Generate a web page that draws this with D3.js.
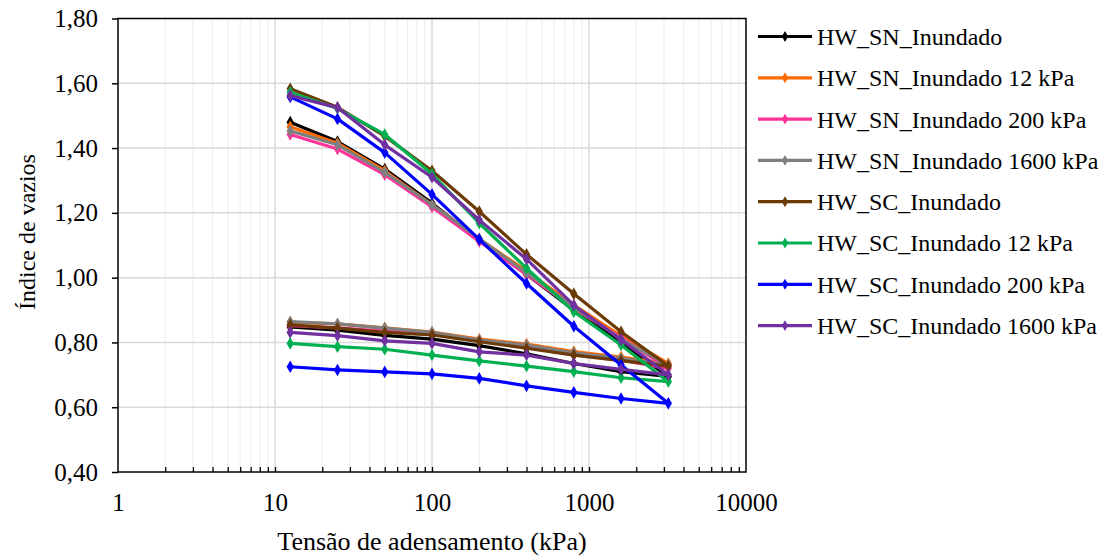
<!DOCTYPE html>
<html>
<head>
<meta charset="utf-8">
<script src="https://cdn.jsdelivr.net/npm/d3@7"></script>
<style>
  html, body { margin: 0; padding: 0; background: #fff; }
</style>
</head>
<body>
<svg id="chart" width="1111" height="556"></svg>
<script>
// Consolidation stages (kPa): loading up to 3200, then unloading back to 12.5
const loadSteps = [12.5, 25, 50, 100, 200, 400, 800, 1600, 3200];
const unloadSteps = [1600, 800, 400, 200, 100, 50, 25, 12.5];

const seriesNames = [
  "HW_SN_Inundado",
  "HW_SN_Inundado 12 kPa",
  "HW_SN_Inundado 200 kPa",
  "HW_SN_Inundado 1600 kPa",
  "HW_SC_Inundado",
  "HW_SC_Inundado 12 kPa",
  "HW_SC_Inundado 200 kPa",
  "HW_SC_Inundado 1600 kPa"
];
const seriesColors = ["#000000", "#ff6a00", "#ff3399", "#7f7f7f", "#6b3a06", "#00b050", "#0000ff", "#7030a0"];

// Void ratio on loading (at loadSteps)
const loadSN     = [1.480, 1.420, 1.335, 1.230, 1.115, 1.010, 0.900, 0.800, 0.695];
const loadSN12   = [1.466, 1.415, 1.330, 1.225, 1.120, 1.020, 0.915, 0.820, 0.735];
const loadSN200  = [1.442, 1.397, 1.318, 1.218, 1.112, 1.010, 0.905, 0.815, 0.720];
const loadSN1600 = [1.453, 1.410, 1.325, 1.225, 1.120, 1.015, 0.910, 0.810, 0.730];
const loadSC     = [1.583, 1.526, 1.437, 1.330, 1.204, 1.072, 0.950, 0.833, 0.727];
const loadSC12   = [1.572, 1.522, 1.442, 1.320, 1.168, 1.029, 0.895, 0.792, 0.679];
const loadSC200  = [1.558, 1.490, 1.386, 1.257, 1.118, 0.982, 0.850, 0.730, 0.612];
const loadSC1600 = [1.562, 1.525, 1.410, 1.310, 1.178, 1.057, 0.915, 0.808, 0.700];

// Void ratio on unloading (at unloadSteps)
const unloadSN     = [0.710, 0.735, 0.765, 0.790, 0.810, 0.822, 0.838, 0.848];
const unloadSN12   = [0.755, 0.772, 0.795, 0.810, 0.832, 0.845, 0.857, 0.862];
const unloadSN200  = [0.745, 0.762, 0.785, 0.805, 0.826, 0.835, 0.845, 0.852];
const unloadSN1600 = [0.751, 0.768, 0.792, 0.807, 0.831, 0.844, 0.857, 0.864];
const unloadSC     = [0.744, 0.761, 0.782, 0.802, 0.823, 0.831, 0.844, 0.854];
const unloadSC12   = [0.691, 0.710, 0.727, 0.743, 0.761, 0.779, 0.787, 0.797];
const unloadSC200  = [0.627, 0.646, 0.666, 0.689, 0.703, 0.709, 0.715, 0.725];
const unloadSC1600 = [0.717, 0.735, 0.761, 0.771, 0.797, 0.805, 0.821, 0.831];

const xTicks = [1, 10, 100, 1000, 10000];
const yTicks = [0.4, 0.6, 0.8, 1.0, 1.2, 1.4, 1.6, 1.8];

const loads = [loadSN, loadSN12, loadSN200, loadSN1600, loadSC, loadSC12, loadSC200, loadSC1600];
const unloads = [unloadSN, unloadSN12, unloadSN200, unloadSN1600, unloadSC, unloadSC12, unloadSC200, unloadSC1600];

const series = seriesNames.map((name, i) => ({
  name,
  color: seriesColors[i],
  points: loadSteps.map((p, j) => ({ p, e: loads[i][j] }))
    .concat(unloadSteps.map((p, j) => ({ p, e: unloads[i][j] })))
}));

const FONT = '"Liberation Serif"';
const svg = d3.select("#chart");
const plot = { left: 118, right: 746, top: 18.5, bottom: 472 };

const x = d3.scaleLog().domain([1, 10000]).range([plot.left, plot.right]);
const y = d3.scaleLinear().domain([0.4, 1.8]).range([plot.bottom, plot.top]);

// Minor/major vertical gridlines for the log axis
const minorX = [];
for (let d = 1; d < 10000; d *= 10) {
  for (let k = 2; k <= 9; k++) minorX.push(d * k);
}
const majorX = [10, 100, 1000];

const grid = svg.append("g");
grid.selectAll("line.minor").data(minorX).join("line")
  .attr("x1", d => x(d)).attr("x2", d => x(d))
  .attr("y1", plot.top).attr("y2", plot.bottom)
  .attr("stroke", "#efefef").attr("stroke-width", 1.2);
grid.selectAll("line.major").data(majorX).join("line")
  .attr("x1", d => x(d)).attr("x2", d => x(d))
  .attr("y1", plot.top).attr("y2", plot.bottom)
  .attr("stroke", "#d9d9d9").attr("stroke-width", 1.5);
grid.selectAll("line.h").data(yTicks.slice(1, -1)).join("line")
  .attr("x1", plot.left).attr("x2", plot.right)
  .attr("y1", d => y(d)).attr("y2", d => y(d))
  .attr("stroke", "#d9d9d9").attr("stroke-width", 1.5);

// Plot frame
svg.append("rect")
  .attr("x", plot.left).attr("y", plot.top)
  .attr("width", plot.right - plot.left).attr("height", plot.bottom - plot.top)
  .attr("fill", "none").attr("stroke", "#000").attr("stroke-width", 1.5);

// X axis: inner minor ticks, labels below
const xAxis = svg.append("g").attr("transform", `translate(0,${plot.bottom})`)
  .call(d3.axisBottom(x).tickValues(minorX.concat(majorX)).tickSize(-5).tickFormat(""));
xAxis.select(".domain").remove();
xAxis.selectAll(".tick line").attr("stroke", "#000").attr("stroke-width", 1.3);

const xLabels = svg.append("g").attr("transform", `translate(0,${plot.bottom})`)
  .call(d3.axisBottom(x).tickValues(xTicks).tickSize(0).tickPadding(21).tickFormat(d3.format("d")));
xLabels.select(".domain").remove();
xLabels.selectAll("text")
  .style("font-family", FONT).style("font-size", "25px").attr("fill", "#000");

// Y axis: outer ticks, comma decimals
const yAxis = svg.append("g").attr("transform", `translate(${plot.left},0)`)
  .call(d3.axisLeft(y).tickValues(yTicks).tickSize(6).tickPadding(14)
    .tickFormat(d => d3.format(".2f")(d).replace(".", ",")));
yAxis.select(".domain").remove();
yAxis.selectAll(".tick line").attr("stroke", "#000").attr("stroke-width", 1.5);
yAxis.selectAll("text")
  .style("font-family", FONT).style("font-size", "25px").attr("fill", "#000");

// Axis titles
svg.append("text")
  .attr("x", 432).attr("y", 550)
  .attr("text-anchor", "middle")
  .style("font-family", FONT).style("font-size", "26px")
  .text("Tensão de adensamento (kPa)");
svg.append("text")
  .attr("transform", "translate(35,232) rotate(-90)")
  .attr("text-anchor", "middle")
  .style("font-family", FONT).style("font-size", "24px")
  .text("Índice de vazios");

// Series lines and diamond markers
const line = d3.line().x(d => x(d.p)).y(d => y(d.e));
const diamond = d3.symbol().type(d3.symbolDiamond).size(46);

const sg = svg.append("g").selectAll("g").data(series).join("g");
sg.append("path")
  .attr("d", d => line(d.points))
  .attr("fill", "none").attr("stroke", d => d.color)
  .attr("stroke-width", 3.2).attr("stroke-linejoin", "round");
sg.selectAll("path.m").data(d => d.points.map(pt => ({ ...pt, color: d.color }))).join("path")
  .attr("class", "m")
  .attr("transform", d => `translate(${x(d.p)},${y(d.e)})`)
  .attr("d", diamond).attr("fill", d => d.color);

// Legend
const legend = svg.append("g").selectAll("g").data(series).join("g")
  .attr("transform", (d, i) => `translate(758,${36.5 + i * 41.3})`);
legend.append("line")
  .attr("x1", 0).attr("x2", 54).attr("y1", 0).attr("y2", 0)
  .attr("stroke", d => d.color).attr("stroke-width", 3.2);
legend.append("path")
  .attr("transform", "translate(27,0)")
  .attr("d", d3.symbol().type(d3.symbolDiamond).size(34)).attr("fill", d => d.color);
legend.append("text")
  .attr("x", 59).attr("y", 0).attr("dy", "0.35em")
  .style("font-family", FONT).style("font-size", "24px")
  .attr("fill", "#000").text(d => d.name);
</script>
</body>
</html>
